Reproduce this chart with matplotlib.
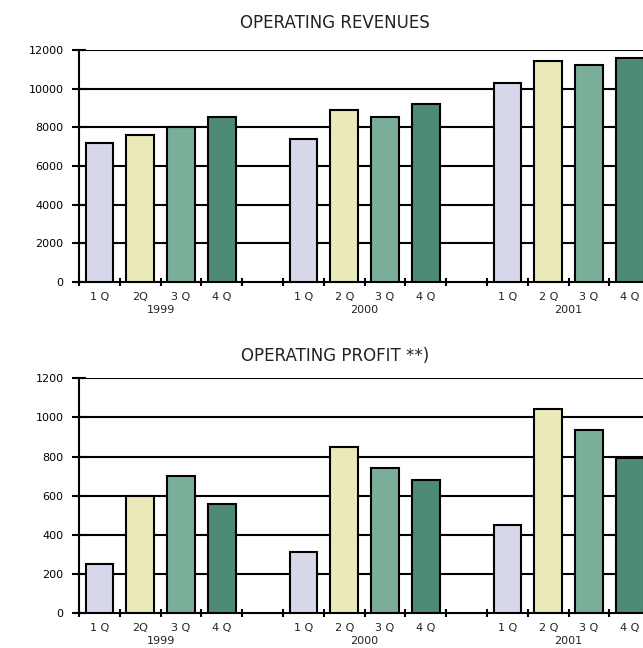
import matplotlib
matplotlib.use("Agg")
import matplotlib.pyplot as plt
import numpy as np

years = ["1999", "2000", "2001"]
quarter_labels = [["1 Q", "2Q", "3 Q", "4 Q"],
                  ["1 Q", "2 Q", "3 Q", "4 Q"],
                  ["1 Q", "2 Q", "3 Q", "4 Q"]]
revenues = [[7200, 7600, 8000, 8550],
            [7400, 8880, 8550, 9200],
            [10300, 11450, 11250, 11570]]
profit = [[250, 600, 700, 555],
          [310, 850, 740, 680],
          [450, 1045, 935, 790]]
quarter_colors = ["#D6D7EA", "#E9E9B9", "#7AAE98", "#4E8B76"]

rev_ticks = [0, 2000, 4000, 6000, 8000, 10000, 12000]
prof_ticks = [0, 200, 400, 600, 800, 1000, 1200]

W, H = 643, 648
fig = plt.figure(figsize=(W / 100, H / 100), dpi=100)

label_font = ["DejaVu Sans"]


def draw(ax_rect, hpx, data, ticks, title, title_y):
    ax = fig.add_axes(ax_rect)
    slot = 0
    centers = []
    for yi, yr in enumerate(data):
        for qi, v in enumerate(yr):
            x = slot + 0.5
            ax.bar(x, v, width=0.68, color=quarter_colors[qi],
                   edgecolor="black", linewidth=1.5, zorder=3)
            centers.append((x, quarter_labels[yi][qi]))
            slot += 1
        slot += 1
    nslots = 14
    ax.set_xlim(0, nslots)
    ax.set_ylim(ticks[0], ticks[-1])
    ax.set_yticks(ticks)
    ax.set_yticklabels([str(t) for t in ticks], fontsize=8, family=label_font)
    for t in ticks[1:]:
        ax.axhline(t, color="black", linewidth=1.5, zorder=1)
    ax.set_xticks(np.arange(0, nslots + 1))
    ax.set_xticklabels([])
    ax.tick_params(axis="y", direction="inout", length=10, width=1.5,
                   colors="black", pad=6)
    ax.tick_params(axis="x", direction="inout", length=6, width=1.5,
                   colors="black")
    for s in ["top", "right"]:
        ax.spines[s].set_visible(False)
    for s in ["left", "bottom"]:
        ax.spines[s].set_linewidth(1.5)
    trans = ax.get_xaxis_transform()
    for x, lab in centers:
        ax.text(x, -15 / hpx, lab, transform=trans, ha="center", va="center",
                fontsize=8, family=label_font, color="#222222")
    for yi, yr in enumerate(years):
        cx = yi * 5 + 2
        ax.text(cx, -28 / hpx, yr, transform=trans, ha="center", va="center",
                fontsize=8, family=label_font, color="#222222")
    fig.text(335 / W, 1 - title_y / H, title, ha="center", va="center",
             fontsize=12, family="DejaVu Sans", color="#222222")
    return ax


ax_w = 14 * 40.8 / W
draw([79 / W, (H - 282) / H, ax_w, 232 / H], 232, revenues, rev_ticks,
     "OPERATING REVENUES", 22.5)
draw([79 / W, (H - 613) / H, ax_w, 234.7 / H], 234.7, profit, prof_ticks,
     "OPERATING PROFIT **)", 356)

fig.savefig("out.png", dpi=100)
